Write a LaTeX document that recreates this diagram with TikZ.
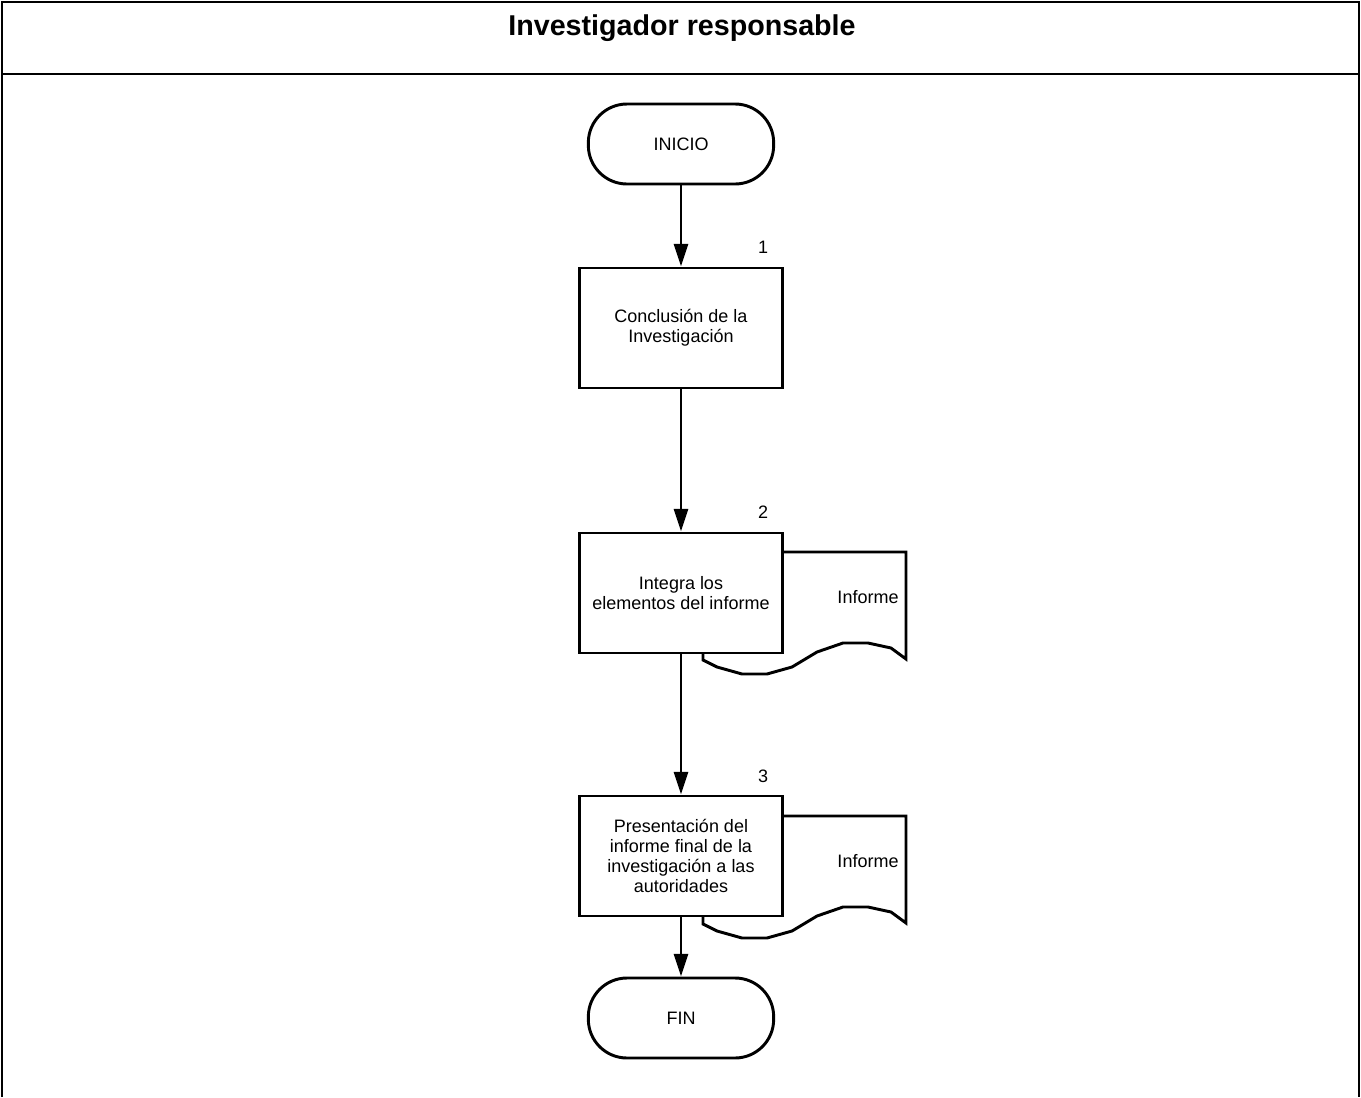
\documentclass[tikz,border=0pt]{standalone}
\usepackage{fontspec}
\setmainfont{Liberation Sans}
\usetikzlibrary{arrows.meta,positioning,calc}

\begin{document}
\begin{tikzpicture}[x=0.75pt,y=-0.75pt,line width=2.2pt,
  flowterm/.style={draw,fill=white,rounded corners=29pt,minimum width=139pt,minimum height=60pt,
    font=\fontsize{13.5}{15}\selectfont},
  flowstep/.style={draw,fill=white,minimum width=152pt,minimum height=90pt,align=center,
    inner sep=2pt,font=\fontsize{13.5}{15}\selectfont},
  flowdoc/.style={draw,fill=white,line join=miter},
  stepnum/.style={font=\fontsize{13.5}{15}\selectfont},
  flowarrow/.style={-{Triangle[length=17pt,width=10.5pt]}}
]
  \useasboundingbox (0,0) rectangle (1361,1097);
  % Lane frame and header
  \draw (2,1097) -- (2,2) -- (1359,2) -- (1359,1097);
  \draw (2,74) -- (1359,74);
  \node[font=\bfseries\fontsize{21.5}{25}\selectfont] (lane) at (682,28) {Investigador responsable};

  % Document shapes (behind the steps)
  \foreach \y/\d in {532/doc2,796/doc3}{
    \begin{scope}[shift={(783,\y)}]
      \draw[flowdoc] (-80,122) -- (-80,20) -- (123,20) -- (123,127) -- (108,116) -- (85,111)
        -- (60,111) -- (34,120) -- (9,135) -- (-16,142) -- (-41,142) -- (-66,135)
        -- (-80,128) -- cycle;
      \node[stepnum] (\d) at (85,65) {Informe};
    \end{scope}
  }

  % Steps
  \node[flowterm] (inicio) at (681,144) {INICIO};
  \node[flowstep] (b1) at (681,328) {Conclusión de la\\Investigación};
  \node[flowstep] (b2) at (681,593) {Integra los\\elementos del informe};
  \node[flowstep] (b3) at (681,856) {Presentación del\\informe final de la\\investigación a las\\autoridades};
  \node[flowterm] (fin) at (681,1018) {FIN};

  % Step numbers
  \node[stepnum] (n1) at (763,247) {1};
  \node[stepnum] (n2) at (763,512) {2};
  \node[stepnum] (n3) at (763,776) {3};

  % Connectors
  \draw[flowarrow] (inicio) -- (b1);
  \draw[flowarrow] (b1) -- (b2);
  \draw[flowarrow] (b2) -- (b3);
  \draw[flowarrow] (b3) -- (fin);
\end{tikzpicture}
\end{document}
